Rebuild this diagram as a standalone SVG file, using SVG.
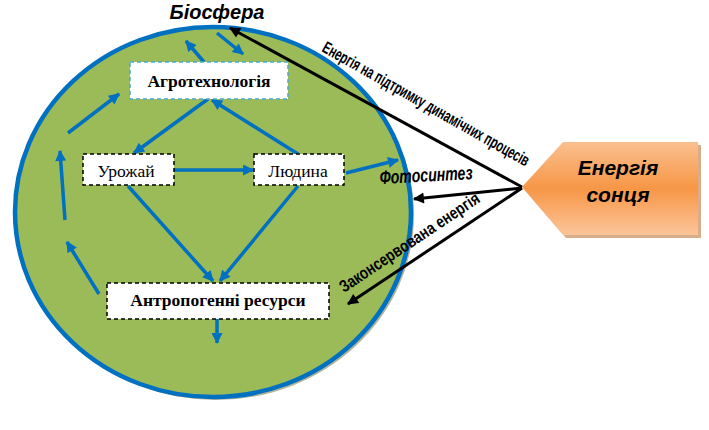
<svg xmlns="http://www.w3.org/2000/svg" width="709" height="430" viewBox="0 0 709 430">
<style>
.box{fill:#ffffff;stroke:#000;stroke-width:1.5;stroke-dasharray:4 3}
.agro{fill:#ffffff;stroke:#4bacc6;stroke-width:1.5;stroke-dasharray:4 3}
.bl{stroke:#0070C0;stroke-width:3.5;fill:none;marker-end:url(#ab)}
.bk{stroke:#000;stroke-width:3;fill:none;marker-end:url(#ak)}
.serif{font-family:"Liberation Serif","Times New Roman",serif;font-size:17.5px;fill:#000}
.lbl{font-family:"Liberation Sans",Arial,sans-serif;font-weight:bold;fill:#000}
</style>
<defs>
<marker id="ab" viewBox="0 0 10 10" refX="9" refY="5" markerWidth="13" markerHeight="11" markerUnits="userSpaceOnUse" orient="auto"><path d="M0,0 L10,5 L0,10 z" fill="#0070C0"/></marker>
<marker id="ak" viewBox="0 0 10 10" refX="9" refY="5" markerWidth="13" markerHeight="11" markerUnits="userSpaceOnUse" orient="auto"><path d="M0,0 L10,5 L0,10 z" fill="#000"/></marker>
<linearGradient id="og" x1="0" y1="0" x2="0" y2="1">
<stop offset="0" stop-color="#fac090"/>
<stop offset="0.5" stop-color="#f79646"/>
<stop offset="1" stop-color="#fbc59a"/>
</linearGradient>
</defs>
<g id="biosphere">
<ellipse cx="216" cy="215" rx="198" ry="185" fill="#b3b59a"/>
<ellipse cx="213" cy="212" rx="198" ry="185" fill="#9bbb59" stroke="#0070C0" stroke-width="4.5"/>
<text x="217" y="19" class="lbl" font-style="italic" font-size="20" text-anchor="middle">Біосфера</text>
</g>
<g id="sun">
<polygon points="525,190 566,145 701,145 701,238 566,238" fill="#c0773a" opacity="0.6"/>
<polygon points="522,187 563,142 698,142 698,235 563,235" fill="url(#og)"/>
<text x="618" y="175" class="lbl" font-style="italic" font-size="21" text-anchor="middle">Енергія</text>
<text x="618" y="202" class="lbl" font-style="italic" font-size="21" text-anchor="middle">сонця</text>
</g>
<g id="connectors">
<line class="bl" x1="208" y1="99" x2="134" y2="153"/>
<line class="bl" x1="298" y1="154" x2="212" y2="100"/>
<line class="bl" x1="174" y1="170" x2="253" y2="170"/>
<line class="bl" x1="128" y1="186" x2="213" y2="281"/>
<line class="bl" x1="298" y1="186" x2="220" y2="281"/>
<line class="bl" x1="346" y1="173" x2="398" y2="160"/>
<line class="bl" x1="217" y1="319" x2="217" y2="343"/>
<line class="bl" x1="204" y1="62" x2="186" y2="41"/>
<line class="bl" x1="217" y1="33" x2="243" y2="54"/>
<line class="bl" x1="68" y1="133" x2="119" y2="94"/>
<line class="bl" x1="65" y1="220" x2="60" y2="151"/>
<line class="bl" x1="99" y1="294" x2="67" y2="242"/>
<line class="bk" x1="522" y1="187" x2="230" y2="28"/>
<line class="bk" x1="522" y1="188" x2="414" y2="199"/>
<line class="bk" x1="522" y1="188" x2="348" y2="304"/>
<text class="lbl" font-size="17" textLength="235" lengthAdjust="spacingAndGlyphs" transform="translate(321,51) rotate(29.5)">Енергія на підтримку динамічних процесів</text>
<text class="lbl" font-style="italic" font-size="19" textLength="93" lengthAdjust="spacingAndGlyphs" transform="translate(380,184) rotate(-3)">Фотосинтез</text>
<text class="lbl" font-size="17" textLength="165" lengthAdjust="spacingAndGlyphs" transform="translate(344,293) rotate(-33.8)">Законсервована енергія</text>
</g>
<g id="agro">
<rect class="agro" x="130" y="62" width="158" height="37"/>
<text x="209" y="87" class="serif" font-weight="bold" font-size="18" text-anchor="middle">Агротехнологія</text>
</g>
<g id="urozhai">
<rect class="box" x="83" y="154" width="91" height="31"/>
<text x="126" y="177" class="serif" text-anchor="middle">Урожай</text>
</g>
<g id="liudyna">
<rect class="box" x="254" y="154" width="90" height="31"/>
<text x="298" y="177" class="serif" text-anchor="middle">Людина</text>
</g>
<g id="resursy">
<rect class="box" x="107" y="283" width="222" height="36"/>
<text x="218" y="306" class="serif" font-weight="bold" font-size="18" text-anchor="middle">Антропогенні ресурси</text>
</g>
</svg>
